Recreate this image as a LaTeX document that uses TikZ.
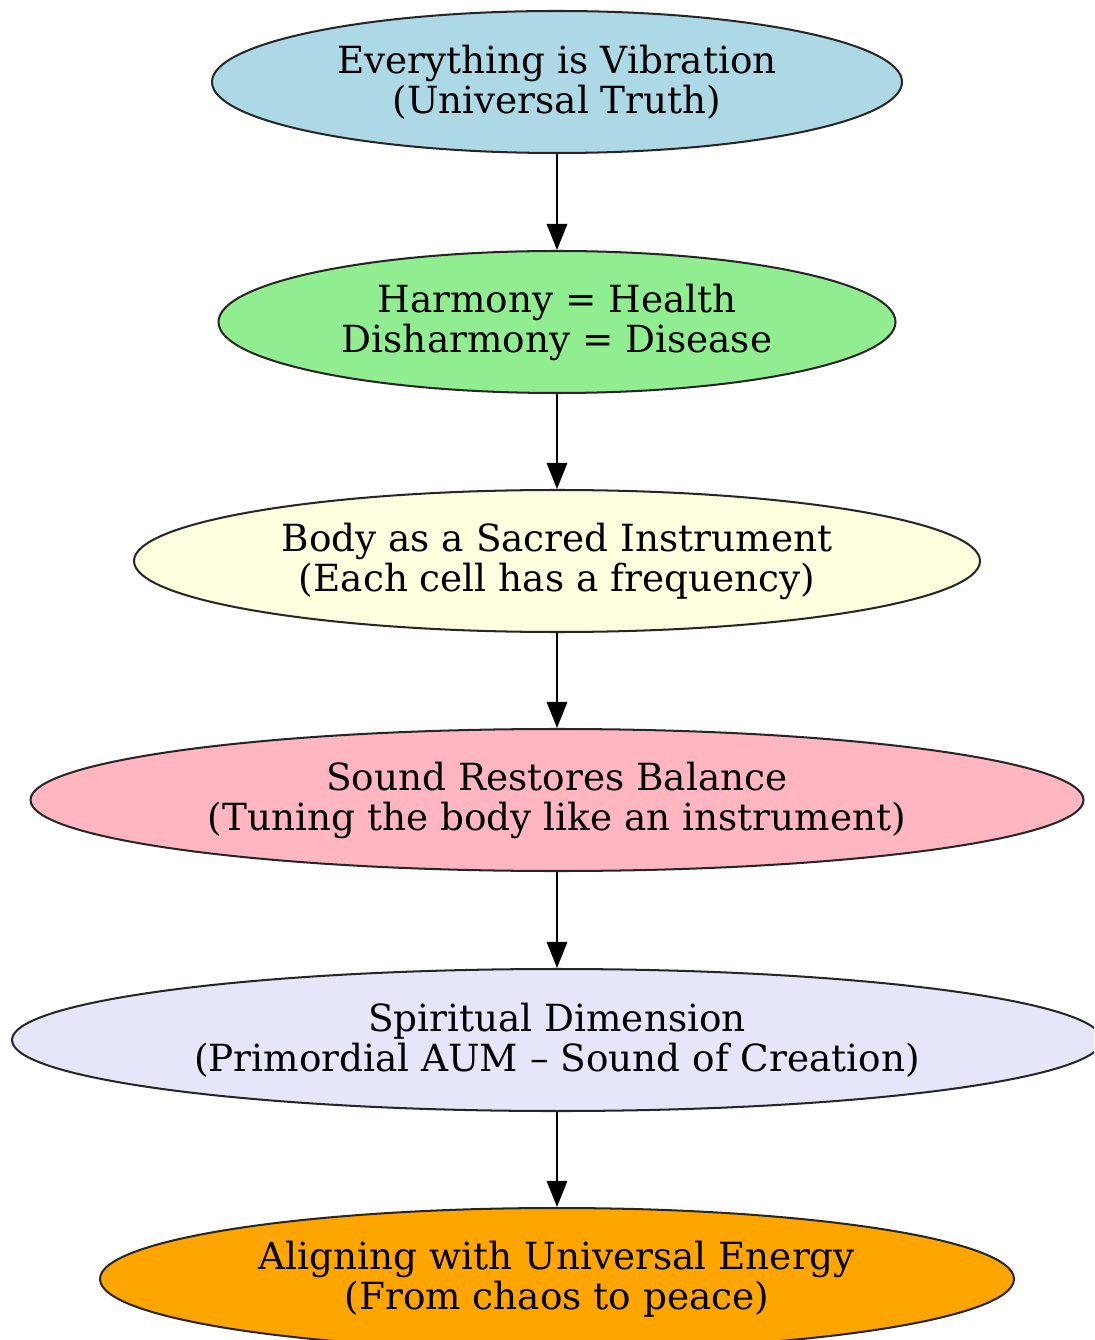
\documentclass[tikz,border=0pt]{standalone}
\usepackage{fontspec}
\setmainfont{DejaVu Serif}
\usetikzlibrary{shapes.geometric,arrows.meta}
\definecolor{nlightblue}{HTML}{ADD8E6}
\definecolor{nlightgreen}{HTML}{90EE90}
\definecolor{nlightyellow}{HTML}{FFFFE0}
\definecolor{nlightpink}{HTML}{FFB6C1}
\definecolor{nlavender}{HTML}{E6E6FA}
\definecolor{norange}{HTML}{FFA500}
\definecolor{nedge}{HTML}{262626}
\begin{document}
\begin{tikzpicture}[x=0.42pt,y=-0.42pt,
  ell/.style={ellipse,draw=nedge,line width=0.85pt,inner sep=0pt,align=center,
    minimum height={142*0.42pt},font=\fontsize{15.7pt}{16.8pt}\selectfont},
  conn/.style={draw=black,line width=0.85pt,-{Triangle[length=11pt,width=8.6pt]}}]
\useasboundingbox (0,0) rectangle (1094,1340);
\clip (0,0) rectangle (1094,1340);
\node[ell,fill=nlightblue,minimum width={690*0.42pt}] (n1) at (557,82) {Everything is Vibration\\(Universal Truth)};
\node[ell,fill=nlightgreen,minimum width={677*0.42pt}] (n2) at (557,322) {Harmony = Health\\Disharmony = Disease};
\node[ell,fill=nlightyellow,minimum width={846*0.42pt}] (n3) at (557,561) {Body as a Sacred Instrument\\(Each cell has a frequency)};
\node[ell,fill=nlightpink,minimum width={1053*0.42pt}] (n4) at (557,800) {Sound Restores Balance\\(Tuning the body like an instrument)};
\node[ell,fill=nlavender,minimum width={1090*0.42pt}] (n5) at (557,1040) {Spiritual Dimension\\(Primordial AUM – Sound of Creation)};
\node[ell,fill=norange,minimum width={914*0.42pt}] (n6) at (557,1279) {Aligning with Universal Energy\\(From chaos to peace)};
\draw[conn] (n1.south) -- (n2.north);
\draw[conn] (n2.south) -- (n3.north);
\draw[conn] (n3.south) -- (n4.north);
\draw[conn] (n4.south) -- (n5.north);
\draw[conn] (n5.south) -- (n6.north);
\end{tikzpicture}
\end{document}
